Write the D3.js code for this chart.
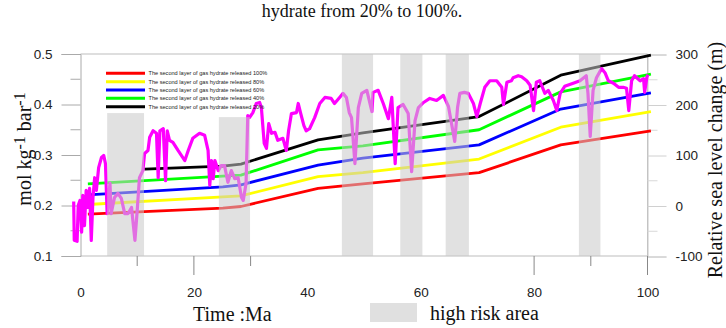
<!DOCTYPE html>
<html><head><meta charset="utf-8">
<script src="https://cdn.jsdelivr.net/npm/d3@7"></script>
<style>
html,body{margin:0;padding:0;background:#fff;}
svg{display:block;}
</style></head>
<body>
<svg id="chart" width="726" height="328"></svg>
<script>
// ---------- data ----------
const titleText = "hydrate from 20% to 100%.";
const xTickLabels = [0, 20, 40, 60, 80, 100];
const xMajorTicks = [20, 80, 100];
const xMinorTicks = [10, 30, 90];
const leftMajorTicks = [0.1, 0.2, 0.3, 0.4, 0.5];
const leftMinorTicks = [0.15, 0.25, 0.35, 0.45];
const rightMajorTicks = [-100, 0, 100, 200, 300];
const rightMinorTicks = [-50, 50, 150, 250];

// high risk bands (Ma) and their top (left-axis units)
const bandStart = [4.7, 24.4, 46.1, 56.4, 64.4, 87.9];
const bandEnd   = [11.2, 29.9, 51.6, 60.3, 68.5, 91.7];
const bandTop   = [0.383, 0.375, 0.5, 0.5, 0.5, 0.5];

// released-hydrate curves (mol kg-1 bar-1)
const seriesNames = [
  "The second layer of gas hydrate released 100%",
  "The second layer of gas hydrate released 80%",
  "The second layer of gas hydrate released 60%",
  "The second layer of gas hydrate released 40%",
  "The second layer of gas hydrate released 20%"
];
const seriesColors = ["#ff0000", "#ffff00", "#0000ff", "#00ff00", "#000000"];
const timeKnots  = [1.3, 25.1, 28.3, 41.9, 49.8, 70.3, 84.7, 100.6];
const timeKnots20 = [11.3, 25.1, 28.3, 41.9, 49.8, 70.3, 84.7, 100.6];
const released100 = [0.183, 0.195, 0.198, 0.234, 0.243, 0.265, 0.320, 0.348];
const released80  = [0.202, 0.217, 0.219, 0.257, 0.265, 0.292, 0.355, 0.386];
const released60  = [0.221, 0.237, 0.241, 0.280, 0.294, 0.320, 0.391, 0.423];
const released40  = [0.243, 0.258, 0.260, 0.310, 0.318, 0.350, 0.425, 0.460];
const released20  = [0.272, 0.278, 0.282, 0.330, 0.344, 0.376, 0.458, 0.498];

// relative sea level change (m)
const seaTime = [-1.2,-1.1,-0.6,-0.4,-0.1,0.2,0.4,0.7,1.0,1.3,1.6,1.9,2.2,2.5,2.8,3.2,3.7,4.1,4.4,4.7,
 5.2,5.4,6.0,6.6,7.2,7.8,8.4,9.0,9.6,10.0,10.4,11.0,11.3,11.9,12.2,12.8,13.4,13.7,14.0,14.6,
 15.0,15.3,15.7,16.3,17.2,18.4,19.0,19.8,21.0,21.9,22.5,22.8,23.1,23.4,23.7,24.3,24.8,25.4,26.0,26.6,
 27.2,27.8,28.4,28.7,29.2,29.5,29.8,30.4,31.0,31.6,31.9,32.4,32.8,33.2,33.7,34.3,34.8,35.7,36.3,36.7,
 37.2,38.1,38.4,38.8,39.4,39.8,40.4,41.3,42.2,43.1,44.2,44.8,45.7,46.3,46.9,47.4,47.8,48.4,49.0,49.6,
 50.5,51.4,51.6,52.5,53.4,54.3,54.9,55.5,56.0,56.9,57.8,58.4,59.0,59.6,60.5,61.6,62.8,64.0,64.9,66.0,
 66.5,66.9,67.7,68.4,69.3,69.9,70.5,71.3,72.2,73.4,74.3,74.6,75.2,76.0,76.3,77.2,77.8,78.7,79.3,79.9,
 80.4,81.0,81.9,82.5,83.4,84.0,84.6,85.4,86.9,88.1,89.2,89.5,89.9,90.4,91.0,91.9,92.5,93.1,94.0,94.9,
 95.7,96.3,96.7,97.2,97.7,98.7,99.3,99.5,99.9,100.1];
const seaLevel = [9,-68,-70,1,11,-52,21,-39,31,-3,35,-68,17,56,31,76,96,100,84,-15,
 45,-15,17,25,15,-15,-15,-3,-68,-9,56,70,104,110,136,149,144,56,149,153,
 50,149,130,126,110,90,110,134,144,140,110,41,90,54,90,70,80,80,47,70,
 54,56,17,11,45,179,175,185,203,205,195,124,114,163,144,146,130,134,110,149,
 183,185,203,185,159,149,153,175,203,215,213,203,215,223,215,185,175,84,195,223,
 229,187,225,229,203,173,215,84,195,201,183,68,169,195,205,213,209,219,197,128,
 195,223,225,223,203,177,203,235,248,248,235,201,245,248,254,258,256,248,239,189,
 245,248,223,229,209,189,223,237,243,248,258,223,138,229,254,272,264,248,243,235,
 235,233,189,248,258,248,252,225,256,260];

// ---------- drawing ----------
const svg = d3.select("#chart");
const x = d3.scaleLinear().domain([0, 100]).range([80.5, 647.5]);
const yL = d3.scaleLinear().domain([0.1, 0.5]).range([256, 54]);
const yR = d3.scaleLinear().domain([-100, 300]).range([256.5, 54.5]);
const sans = "'Liberation Sans', Arial, sans-serif";
const serif = "'Liberation Serif', 'Times New Roman', serif";

// title
svg.append("text").attr("x", 362).attr("y", 17).attr("text-anchor", "middle")
  .attr("font-family", serif).attr("font-size", 18).attr("fill", "#111").text(titleText);

// frame
const frame = svg.append("g").attr("stroke", "#bdbdbd").attr("fill", "none");
frame.append("line").attr("x1", x(0)).attr("x2", x(100)).attr("y1", yL(0.5)).attr("y2", yL(0.5));
frame.append("line").attr("x1", x(0)).attr("x2", x(100)).attr("y1", yL(0.1)).attr("y2", yL(0.1));
frame.append("line").attr("x1", x(100)).attr("x2", x(100)).attr("y1", yL(0.5)).attr("y2", yL(0.1));

// left axis
const gL = svg.append("g").attr("transform", `translate(${x(0)},0)`);
gL.call(d3.axisLeft(yL).tickValues(leftMajorTicks).tickSize(19).tickPadding(9).tickFormat(d3.format(".1f")));
gL.select(".domain").attr("stroke", "#aaa");
gL.selectAll(".tick line").attr("stroke", "#aaa");
gL.selectAll(".tick text").attr("font-family", sans).attr("font-size", 13.5).attr("fill", "#222");
gL.selectAll(".minor").data(leftMinorTicks).enter().append("line")
  .attr("x1", -10).attr("x2", 0).attr("y1", d => yL(d)).attr("y2", d => yL(d)).attr("stroke", "#aaa");

// right axis
const gR = svg.append("g").attr("transform", `translate(${x(100)},0)`);
gR.call(d3.axisRight(yR).tickValues(rightMajorTicks).tickSize(19).tickPadding(9).tickFormat(d => String(d)));
gR.select(".domain").attr("stroke", "#c8c8c8");
gR.selectAll(".tick line").attr("stroke", "#d0d0d0");
gR.selectAll(".tick text").attr("font-family", sans).attr("font-size", 13.5).attr("fill", "#222");
gR.selectAll(".minor").data(rightMinorTicks).enter().append("line")
  .attr("x1", 0).attr("x2", 10).attr("y1", d => yR(d)).attr("y2", d => yR(d)).attr("stroke", "#d8d8d8");

// bottom axis labels and ticks
const gB = svg.append("g").attr("transform", `translate(0,${yL(0.1)})`);
gB.call(d3.axisBottom(x).tickValues(xTickLabels).tickSize(0).tickPadding(31));
gB.select(".domain").remove();
gB.selectAll(".tick text").attr("font-family", sans).attr("font-size", 13.5).attr("fill", "#222");
gB.selectAll(".major").data(xMajorTicks).enter().append("line")
  .attr("x1", d => x(d)).attr("x2", d => x(d)).attr("y1", 0).attr("y2", 19).attr("stroke", "#888");
gB.selectAll(".minorx").data(xMinorTicks).enter().append("line")
  .attr("x1", d => x(d)).attr("x2", d => x(d)).attr("y1", 0).attr("y2", 10).attr("stroke", "#888");

// released curves
const allSeries = [released100, released80, released60, released40, released20];
const lineGen = d3.line().x(d => x(d[0])).y(d => yL(d[1])).curve(d3.curveLinear);
allSeries.forEach((vals, i) => {
  const ts = i === 4 ? timeKnots20 : timeKnots;
  svg.append("path").datum(ts.map((t, j) => [t, vals[j]]))
    .attr("d", lineGen).attr("fill", "none").attr("stroke", seriesColors[i])
    .attr("stroke-width", 2.8).attr("stroke-linejoin", "round");
});

// sea level curve
const seaLine = d3.line().x(d => x(d[0])).y(d => yR(d[1]));
svg.append("path").datum(seaTime.map((t, i) => [t, seaLevel[i]]))
  .attr("d", seaLine).attr("fill", "none").attr("stroke", "#ff00ff")
  .attr("stroke-width", 3.2).attr("stroke-linejoin", "round");

// high risk bands (translucent, over the curves)
svg.selectAll(".band").data(bandStart).enter().append("rect")
  .attr("x", (d, i) => x(d)).attr("width", (d, i) => x(bandEnd[i]) - x(d))
  .attr("y", (d, i) => yL(bandTop[i])).attr("height", (d, i) => yL(0.1) - yL(bandTop[i]))
  .attr("fill", "rgb(200,200,200)").attr("fill-opacity", 0.55);

// legend for curves
const lg = svg.append("g");
seriesNames.forEach((name, i) => {
  const yy = 73.3 + i * 8.35;
  lg.append("line").attr("x1", 106).attr("x2", 145).attr("y1", yy).attr("y2", yy)
    .attr("stroke", seriesColors[i]).attr("stroke-width", 3);
  lg.append("text").attr("x", 148.5).attr("y", yy + 2).attr("font-family", sans)
    .attr("font-size", 5.6).attr("fill", "#222").text(name);
});

// axis titles
const lt = svg.append("text").attr("transform", "rotate(-90)").attr("x", -149).attr("y", 31)
  .attr("text-anchor", "middle").attr("font-family", serif).attr("font-size", 20).attr("fill", "#111");
lt.append("tspan").text("mol kg");
lt.append("tspan").attr("dy", -6).attr("font-size", 16).text("-1");
lt.append("tspan").attr("dy", 6).text(" bar");
lt.append("tspan").attr("dy", -6).attr("font-size", 16).text("-1");

svg.append("text").attr("transform", "rotate(-90)").attr("x", -160).attr("y", 722)
  .attr("text-anchor", "middle").attr("font-family", serif).attr("font-size", 20).attr("fill", "#111")
  .text("Relative sea level change (m)");

svg.append("text").attr("x", 193).attr("y", 321).attr("font-family", serif).attr("font-size", 20)
  .attr("fill", "#111").text("Time :Ma");

// band legend
svg.append("rect").attr("x", 370).attr("y", 303).attr("width", 47).attr("height", 19).attr("fill", "#e0e0e0");
svg.append("text").attr("x", 430).attr("y", 320).attr("font-family", serif).attr("font-size", 20)
  .attr("fill", "#111").text("high risk area");
</script>
</body></html>
